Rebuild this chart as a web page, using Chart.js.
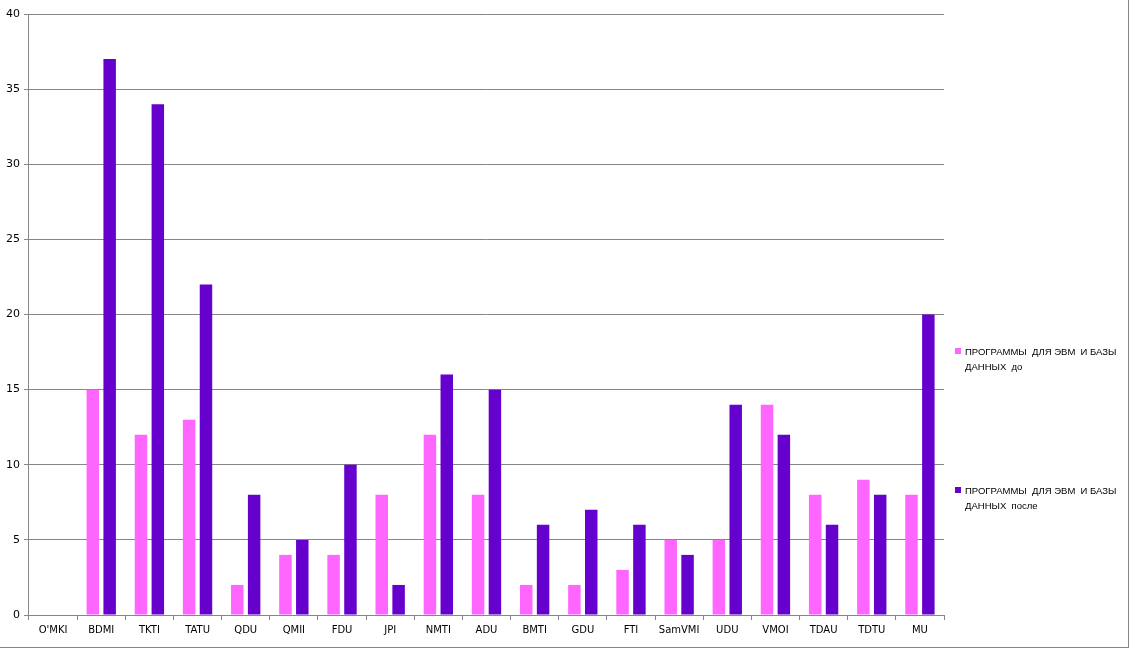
<!DOCTYPE html>
<html>
<head>
<meta charset="utf-8">
<script src="https://cdn.jsdelivr.net/npm/chart.js@4.4.0/dist/chart.umd.min.js"></script>
<style>
  body { margin: 0; background: #fff; }
  #wrap { position: relative; width: 1131px; height: 650px; }
  #frame { position: absolute; left: 0; top: 0; width: 1128px; height: 647px; border-right: 1px solid #868686; border-bottom: 1px solid #868686; box-sizing: content-box; pointer-events: none; }
  .leg { position: absolute; left: 955px; width: 172px; font: 9.5px "Liberation Sans", Arial, sans-serif; color: #000; line-height: 15px; white-space: nowrap; }
  .leg span.box { display: inline-block; width: 6px; height: 6px; margin-right: 4px; vertical-align: 1px; }
</style>
</head>
<body>
<div id="wrap">
  <canvas id="barChart" width="1131" height="650"></canvas>
  <div id="frame"></div>
  <div class="leg" style="top:344px"><span class="box" style="background:#FF66FF"></span>ПРОГРАММЫ&nbsp; ДЛЯ ЭВМ&nbsp; И БАЗЫ<br><span style="margin-left:10px">ДАННЫХ&nbsp; до</span></div>
  <div class="leg" style="top:483px"><span class="box" style="background:#6600CC"></span>ПРОГРАММЫ&nbsp; ДЛЯ ЭВМ&nbsp; И БАЗЫ<br><span style="margin-left:10px">ДАННЫХ&nbsp; после</span></div>
</div>
<script>
const categories = ["O'MKI", "BDMI", "TKTI", "TATU", "QDU", "QMII", "FDU", "JPI", "NMTI", "ADU",
  "BMTI", "GDU", "FTI", "SamVMI", "UDU", "VMOI", "TDAU", "TDTU", "MU"];
const before = [0, 15, 12, 13, 2, 4, 4, 8, 12, 8, 2, 2, 3, 5, 5, 14, 8, 9, 8];
const after = [0, 37, 34, 22, 8, 5, 10, 2, 16, 15, 6, 7, 6, 4, 14, 12, 6, 8, 20];
const seriesNames = ["ПРОГРАММЫ  ДЛЯ ЭВМ  И БАЗЫ ДАННЫХ до", "ПРОГРАММЫ  ДЛЯ ЭВМ  И БАЗЫ ДАННЫХ после"];

new Chart(document.getElementById("barChart"), {
  type: "bar",
  data: {
    labels: categories,
    datasets: [
      { label: seriesNames[0], data: before, backgroundColor: "#FF66FF",
        categoryPercentage: 0.7, barPercentage: 0.74 },
      { label: seriesNames[1], data: after, backgroundColor: "#6600CC",
        categoryPercentage: 0.7, barPercentage: 0.74 }
    ]
  },
  options: {
    responsive: false,
    animation: false,
    layout: { padding: { left: 2, right: 187, top: 14, bottom: 10 } },
    plugins: { legend: { display: false }, tooltip: { enabled: false } },
    scales: {
      x: {
        grid: { drawOnChartArea: false, drawTicks: true, tickLength: 5, color: "#868686", offset: true },
        border: { color: "#868686" },
        ticks: { color: "#000", font: { family: "DejaVu Sans", size: 10 }, padding: 4, maxRotation: 0, autoSkip: false }
      },
      y: {
        min: 0, max: 40,
        grid: { color: "#868686", tickLength: 5 },
        border: { color: "#868686" },
        ticks: { stepSize: 5, color: "#000", font: { family: "DejaVu Sans", size: 11 }, padding: 4 }
      }
    }
  }
});
</script>
</body>
</html>
